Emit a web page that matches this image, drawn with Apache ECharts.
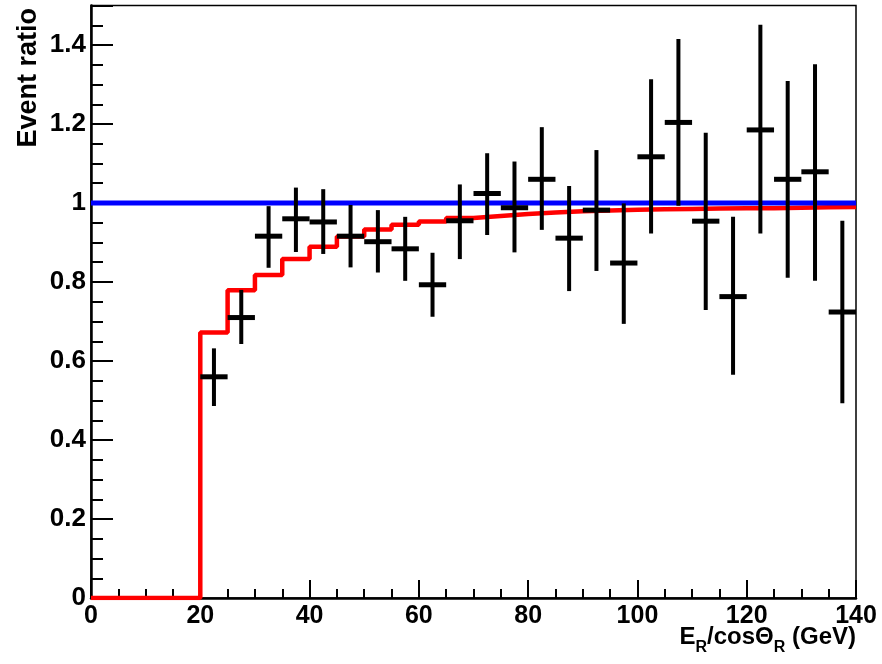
<!DOCTYPE html>
<html>
<head>
<meta charset="utf-8">
<script src="https://cdn.jsdelivr.net/npm/echarts@6/dist/echarts.min.js"></script>
<style>
html,body{margin:0;padding:0;background:#fff;}
#chart{width:882px;height:664px;}
</style>
</head>
<body>
<div id="chart"></div>
<script>
// ---- data ----
const binCenters = [22.5,27.5,32.5,37.5,42.5,47.5,52.5,57.5,62.5,67.5,72.5,77.5,82.5,87.5,92.5,97.5,102.5,107.5,112.5,117.5,122.5,127.5,132.5,137.5];
const binHalfWidth = 2.5;
const dataRatio = [0.560,0.710,0.916,0.960,0.952,0.916,0.902,0.884,0.793,0.955,1.024,0.988,1.060,0.911,0.982,0.848,1.117,1.204,0.954,0.763,1.185,1.060,1.079,0.724];
const dataLow   = [0.486,0.643,0.836,0.876,0.871,0.837,0.824,0.803,0.712,0.858,0.919,0.875,0.932,0.777,0.828,0.694,0.923,0.993,0.729,0.565,0.923,0.811,0.803,0.493];
const dataHigh  = [0.632,0.780,0.992,1.039,1.035,0.995,0.982,0.965,0.874,1.047,1.126,1.105,1.192,1.043,1.134,0.999,1.313,1.415,1.178,0.965,1.451,1.309,1.351,0.955];
const mcEdges = [0,5,10,15,20,25,30,35,40,45,50,55,60,65,70,75,80,85,90,95,100,105,110,115,120,125,130,135,140];
const mcRatio = [0,0,0,0,0.672,0.779,0.818,0.858,0.889,0.915,0.933,0.945,0.953,0.962,0.967,0.972,0.976,0.979,0.981,0.983,0.984,0.985,0.986,0.987,0.987,0.988,0.989,0.990];
const refLineX = [0,140];
const refLineY = [1,1];
const xTicks = {min:0,max:140,interval:20};
const yTicks = {min:0,max:1.5,interval:0.2};

const FONT = 'Liberation Sans';
const mcData = mcEdges.map((e,i)=>[e, i<mcRatio.length ? mcRatio[i] : mcRatio[mcRatio.length-1]]);
const pts = binCenters.map((c,i)=>[c, dataRatio[i], dataLow[i], dataHigh[i]]);
const refData = refLineX.map((x,i)=>[x, refLineY[i]]);

const chart = echarts.init(document.getElementById('chart'), null, {renderer:'canvas'});
const labelStyle = {color:'#000', fontSize:25, fontWeight:'bold', fontFamily:FONT};
chart.setOption({
  animation:false,
  backgroundColor:'#fff',
  grid:{left:91,right:26,top:5.5,bottom:66,show:true,borderColor:'#000',borderWidth:1.5,backgroundColor:'transparent',
        containLabel:false, outerBoundsMode:'none'},
  xAxis:{
    type:'value', min:xTicks.min, max:xTicks.max, interval:xTicks.interval,
    axisLine:{onZero:false,lineStyle:{color:'#000',width:2.5}},
    axisTick:{inside:true,length:18,lineStyle:{color:'#000',width:2}},
    minorTick:{show:true,splitNumber:4,length:9,lineStyle:{color:'#000',width:2}},
    splitLine:{show:false}, minorSplitLine:{show:false},
    axisLabel:Object.assign({margin:6},labelStyle)
  },
  yAxis:{
    type:'value', min:yTicks.min, max:yTicks.max, interval:yTicks.interval,
    axisLine:{show:true,onZero:false,lineStyle:{color:'#000',width:2.5}},
    axisTick:{show:true,inside:true,length:22,lineStyle:{color:'#000',width:2}},
    minorTick:{show:true,splitNumber:4,length:12,lineStyle:{color:'#000',width:2}},
    splitLine:{show:false}, minorSplitLine:{show:false},
    axisLabel:Object.assign({margin:5, showMaxLabel:false, formatter:v=>String(Math.round(v*10)/10)},labelStyle,{fontSize:26})
  },
  graphic:[
    {type:'text', x:29, y:8, rotation:Math.PI/2,
     style:{text:'Event ratio', textAlign:'right', textVerticalAlign:'middle', fill:'#000', font:'bold 27px "Liberation Sans"'}},
    {type:'text', x:856, y:626,
     style:{text:'{m|E}{s|R}{m|/cos\u0398}{s|R}{m| (GeV)}', textAlign:'right', textVerticalAlign:'top', fill:'#000',
       rich:{
         m:{fontSize:24,fontWeight:'bold',fontFamily:FONT,fill:'#000',verticalAlign:'bottom',padding:[0,0,7,0],lineHeight:30},
         s:{fontSize:16,fontWeight:'bold',fontFamily:FONT,fill:'#000',verticalAlign:'bottom',lineHeight:30}
       }}}
  ],
  series:[
    {type:'line', data:mcData, step:'end', symbol:'none', lineStyle:{color:'#ff0000',width:4.5}, z:2},
    {type:'line', data:refData, symbol:'none', lineStyle:{color:'#0000ff',width:5}, z:3},
    {type:'custom', z:4, data:pts,
     renderItem:function(params, api){
       const x = api.value(0), y = api.value(1), lo = api.value(2), hi = api.value(3);
       const pc = api.coord([x,y]);
       const pl = api.coord([x-binHalfWidth,y]);
       const pr = api.coord([x+binHalfWidth,y]);
       const plo = api.coord([x,lo]);
       const phi = api.coord([x,hi]);
       return {type:'group', children:[
         {type:'rect', shape:{x:pc[0]-2, y:phi[1], width:4, height:plo[1]-phi[1]}, style:{fill:'#000'}},
         {type:'rect', shape:{x:pl[0], y:pc[1]-2.5, width:pr[0]-pl[0], height:5}, style:{fill:'#000'}}
       ]};
     }}
  ]
});
</script>
</body>
</html>
